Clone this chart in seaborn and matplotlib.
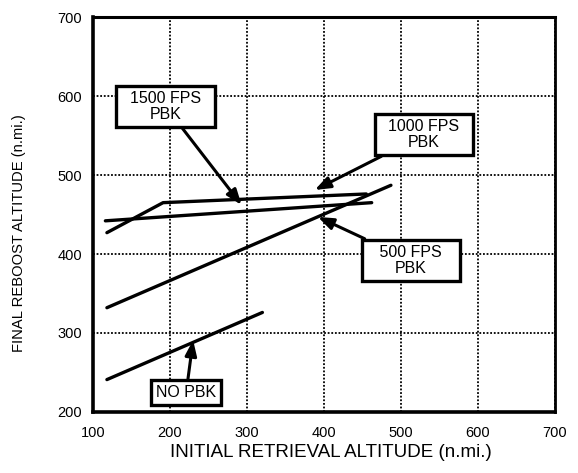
import pandas as pd
import matplotlib
matplotlib.use("Agg")
import matplotlib.pyplot as plt
import seaborn as sns

# curves (initial altitude -> final altitude, n.mi.)
no_pbk_x = [118, 320]
no_pbk_y = [241, 326]
fps500_x = [118, 487]
fps500_y = [332, 487]
fps1000_x = [116, 462]
fps1000_y = [442, 465]
fps1500_x = [118, 191, 455]
fps1500_y = [427, 465, 476]

# callout boxes: text, box centre, arrow tip
callout_text = ["  1500 FPS  \nPBK", "  1000 FPS  \nPBK", "   500 FPS   \nPBK", "NO PBK"]
callout_xy = [(194, 587), (530, 551), (513, 392), (221, 225)]
callout_tip = [(293, 462), (388, 481), (392, 447), (230, 291)]

ticks = [100, 200, 300, 400, 500, 600, 700]
yticks = [200, 300, 400, 500, 600, 700]


def main():
    sns.set_style("white")
    plt.rcParams['font.family'] = ['Liberation Sans', 'DejaVu Sans']
    plt.rcParams['text.color'] = 'black'
    plt.rcParams['axes.labelcolor'] = 'black'
    plt.rcParams['xtick.color'] = 'black'
    plt.rcParams['ytick.color'] = 'black'

    frames = []
    for name, xs, ys in [("NO PBK", no_pbk_x, no_pbk_y),
                         ("500", fps500_x, fps500_y),
                         ("1000", fps1000_x, fps1000_y),
                         ("1500", fps1500_x, fps1500_y)]:
        frames.append(pd.DataFrame({'series': name, 'x': xs, 'y': ys}))
    df = pd.concat(frames, ignore_index=True)

    fig = plt.figure(figsize=(5.78, 4.73), dpi=100)
    ax = fig.add_axes([0.161, 0.129, 0.799, 0.835])

    sns.lineplot(data=df, x='x', y='y', units='series', estimator=None,
                 color='black', linewidth=2.4, sort=False, ax=ax, zorder=3)

    ax.set_xlim(100, 700)
    ax.set_ylim(200, 700)
    ax.set_xticks(ticks)
    ax.set_yticks(yticks)
    ax.set_xticks([150, 250, 350, 450, 550, 650], minor=True)
    ax.set_yticks([250, 350, 450, 550, 650], minor=True)
    ax.tick_params(which='major', length=0, labelsize=10.5)
    ax.tick_params(axis='x', which='major', pad=10)
    ax.tick_params(axis='y', which='major', pad=8)
    ax.tick_params(which='minor', direction='in', length=4, width=1.5)
    ax.grid(True, which='major', color='black', linestyle=(0, (1, 1)), linewidth=1.3)
    ax.set_axisbelow(True)
    for side, lw in [('left', 2.6), ('bottom', 2.6), ('top', 2.2), ('right', 2.0)]:
        ax.spines[side].set_linewidth(lw)
        ax.spines[side].set_color('black')

    ax.set_xlabel('INITIAL RETRIEVAL ALTITUDE (n.mi.)', fontsize=13.5)
    ax.set_ylabel('FINAL REBOOST ALTITUDE (n.mi.)', fontsize=10.6)
    ax.xaxis.set_label_coords(0.516, -0.082)
    ax.yaxis.set_label_coords(-0.145, 0.453)

    for txt, xy, tip in zip(callout_text, callout_xy, callout_tip):
        ax.annotate(txt, xy=tip, xytext=xy, ha='center', va='center',
                    fontsize=11.5, linespacing=1.1, zorder=5,
                    bbox=dict(boxstyle='square,pad=0.3', fc='white', ec='black', lw=2.4),
                    arrowprops=dict(arrowstyle='-|>,head_length=0.8,head_width=0.3',
                                    color='black', lw=2.2, shrinkA=0, shrinkB=0))

    fig.savefig('out.png', dpi=100)


if __name__ == "__main__":
    main()
